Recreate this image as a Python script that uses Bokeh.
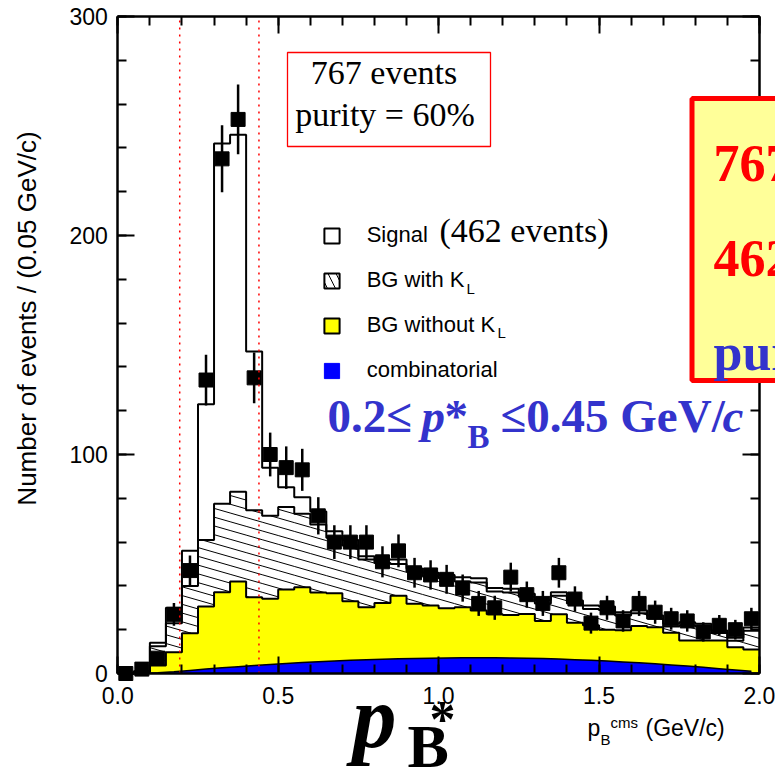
import numpy as np
from bokeh.plotting import figure
from bokeh.models import (Range1d, LinearAxis, FixedTicker, Label,
                          BoxAnnotation, Legend, LegendItem)
from bokeh.core.properties import value
from bokeh.embed import file_html
from bokeh.resources import INLINE

# ---------------- data ----------------
bin_start = 0.0
bin_width = 0.05
n_bins = 40

data_counts = [0, 2, 7, 27, 47, 134, 235, 253, 135, 100, 94, 93, 72, 60, 60, 60,
               51, 56, 46, 45, 43, 39, 32, 30, 44, 36, 32, 46, 34, 23, 30, 24,
               32, 28, 25, 24, 19, 22, 20, 25]
data_errors = [0, 1.4, 2.6, 5.2, 6.9, 11.6, 15.3, 15.9, 11.6, 10.0, 9.7, 9.6, 8.5,
               7.7, 7.7, 7.7, 7.1, 7.5, 6.8, 6.7, 6.6, 6.2, 5.7, 5.5, 6.6, 6.0,
               5.7, 6.8, 5.8, 4.8, 5.5, 4.9, 5.7, 5.3, 5.0, 4.9, 4.4, 4.7, 4.5, 5.0]

# stacked histograms (cumulative tops)
signal_top = [0, 1, 14, 30, 56, 123, 242, 246, 147, 94, 85, 80.5, 74, 65, 61,
              53.5, 52, 52, 48, 46, 45, 44, 43.5, 39, 38.7, 36.4, 33.6, 37.1,
              33.3, 31, 30.6, 28, 28.8, 26.5, 22.7, 23.4, 22.7, 19.6, 16.3, 21]
bg_kl_top = [0, 0.8, 12.5, 23, 40, 61, 77.5, 83, 74.5, 72, 76, 73, 68, 62, 58.5,
             52, 50.5, 50, 46.5, 44.5, 43.5, 42, 41.5, 37.5, 37, 35, 32, 35.5,
             32, 29.5, 29, 26.5, 27.5, 25, 21.5, 22, 21.5, 18.5, 15, 19.5]
bg_nokl_top = [0, 0.8, 3.6, 9.7, 18.4, 30.6, 37.1, 42, 34.8, 34.1, 38.3, 39.4, 37,
               36.7, 33, 30.3, 32.2, 35.5, 31.8, 31, 29.8, 30.3, 28.8, 27, 26.7,
               27.2, 24, 27, 23.2, 22, 20, 19.7, 21.7, 21.1, 18.6, 15.1, 15.1,
               15.1, 12, 11]
combinatorial = [0, 0, 0.3, 0.8, 1.4, 2.0, 2.6, 3.1, 3.6, 4.1, 4.6, 5.0, 5.4, 5.7,
                 6.0, 6.3, 6.5, 6.7, 6.9, 7.0, 7.1, 7.2, 7.2, 7.2, 7.1, 7.0, 6.8,
                 6.6, 6.3, 6.0, 5.7, 5.3, 4.9, 4.4, 3.9, 3.4, 2.8, 2.2, 1.6, 1.0]

x_ticks = [0.0, 0.5, 1.0, 1.5, 2.0]
x_minor = [0.0, 0.1, 0.2, 0.3, 0.4, 0.5, 0.6, 0.7, 0.8, 0.9, 1.0, 1.1, 1.2, 1.3,
           1.4, 1.5, 1.6, 1.7, 1.8, 1.9, 2.0]
y_ticks = [0, 100, 200, 300]
y_minor = [0, 20, 40, 60, 80, 100, 120, 140, 160, 180, 200, 220, 240, 260, 280, 300]
x_lim = (0.0, 2.0)
y_lim = (0, 300)
window_lo, window_hi = 0.193, 0.44

# ---------------- layout: whole canvas is the frame ----------------
W, H = 775, 781
X_ZERO, PX_PER_X = 117.3, 320.8   # pixel of x = 0, pixels per GeV/c
Y_ZERO, PX_PER_Y = 673.0, 2.19    # pixel of y = 0, pixels per event


def dx(X):
    return (X - X_ZERO) / PX_PER_X


def dy(Y):
    return (Y_ZERO - Y) / PX_PER_Y


edges = bin_start + bin_width * np.arange(n_bins + 1)
centers = 0.5 * (edges[:-1] + edges[1:])


def step_xy(vals):
    xs = np.repeat(edges, 2)[1:-1]
    ys = np.repeat(np.asarray(vals, dtype=float), 2)
    return xs, ys


p = figure(width=W, height=H, output_backend="svg", toolbar_location=None,
           x_range=Range1d(dx(0), dx(W)), y_range=Range1d(dy(H), dy(0)),
           min_border=0, background_fill_color="white",
           border_fill_color="white", x_axis_location=None, y_axis_location=None)
p.title.visible = False
p.grid.visible = False
p.outline_line_color = None

# yellow: BG without K_L
xs, ys = step_xy(bg_nokl_top)
p.varea(x=xs, y1=0, y2=ys, fill_color="#FFFF00")

# hatch lines of BG with K_L (between yellow top and hatched top)
slope, spacing = 42.0, 4.0
hx0, hy0, hx1, hy1 = [], [], [], []
for i in range(n_bins):
    lo, hi = bg_nokl_top[i], bg_kl_top[i]
    if hi <= lo:
        continue
    a, b = edges[i], edges[i + 1]
    k0 = int(np.ceil((lo + slope * a) / spacing))
    k1 = int(np.floor((hi + slope * b) / spacing))
    for k in range(k0, k1 + 1):
        c = k * spacing
        xa = max(a, (c - hi) / slope)
        xb = min(b, (c - lo) / slope)
        if xb > xa:
            hx0.append(xa); hy0.append(c - slope * xa)
            hx1.append(xb); hy1.append(c - slope * xb)
p.segment(x0=hx0, y0=hy0, x1=hx1, y1=hy1, line_color="black", line_width=1)

# combinatorial (blue)
p.varea(x=centers, y1=0, y2=combinatorial, fill_color="#0000FF")
p.line(x=centers, y=combinatorial, line_color="black", line_width=1.5)

# outlines
for vals in (bg_nokl_top, bg_kl_top, signal_top):
    xs, ys = step_xy(vals)
    p.line(x=xs, y=ys, line_color="black", line_width=2)

# data points with errors
err_lo = [c - e for c, e in zip(data_counts, data_errors)]
err_hi = [c + e for c, e in zip(data_counts, data_errors)]
p.segment(x0=centers, y0=err_lo, x1=centers, y1=err_hi, line_color="black",
          line_width=2.5)
p.scatter(x=centers, y=data_counts, marker="square", size=14,
          fill_color="black", line_color="black")

# selection window (red dotted)
p.segment(x0=[window_lo, window_hi], y0=[y_lim[0]] * 2,
          x1=[window_lo, window_hi], y1=[y_lim[1]] * 2,
          line_color="red", line_width=1.5, line_dash="2 5")

# legend icons (renderers with one undrawable point)
nan = [float("nan")]
r_sig = p.quad(left=nan, right=nan, top=nan, bottom=nan, fill_color="white",
               line_color="black", line_width=2)
r_kl = p.quad(left=nan, right=nan, top=nan, bottom=nan, fill_color="white",
              line_color="black", line_width=2, hatch_pattern="\\",
              hatch_color="black", hatch_scale=16, hatch_weight=1)
r_nokl = p.quad(left=nan, right=nan, top=nan, bottom=nan, fill_color="#FFFF00",
                line_color="black", line_width=2)
r_comb = p.quad(left=nan, right=nan, top=nan, bottom=nan, fill_color="#0000FF",
                line_color="#0000FF", line_width=1)

legend = Legend(items=[LegendItem(label="Signal", renderers=[r_sig]),
                       LegendItem(label="BG with K", renderers=[r_kl]),
                       LegendItem(label="BG without K", renderers=[r_nokl]),
                       LegendItem(label="combinatorial", renderers=[r_comb])],
                location=(321.7, 398), orientation="vertical",
                border_line_color=None, background_fill_alpha=0,
                padding=0, margin=0, spacing=19, glyph_width=19,
                glyph_height=19, label_height=25, label_standoff=26,
                label_text_font="Liberation Sans", label_text_font_size="22px",
                label_text_color="black")
p.add_layout(legend)


# axes fixed on the box edges
def make_axis(ticks, minor, fixed, bounds, labels, standoff=10):
    ax = LinearAxis(ticker=FixedTicker(ticks=ticks, minor_ticks=minor),
                    fixed_location=fixed, bounds=bounds)
    ax.axis_line_width = 2.5
    ax.axis_line_color = "black"
    ax.major_tick_in = 17
    ax.major_tick_out = 0
    ax.minor_tick_in = 9
    ax.minor_tick_out = 0
    ax.major_tick_line_width = 2
    ax.minor_tick_line_width = 2
    ax.major_tick_line_color = "black"
    ax.minor_tick_line_color = "black"
    if labels:
        ax.major_label_text_font = "Liberation Sans"
        ax.major_label_text_font_size = "23px"
        ax.major_label_text_color = "black"
        ax.major_label_standoff = standoff
    else:
        ax.major_label_text_color = None
        ax.major_label_text_font_size = "1px"
        ax.major_label_standoff = 0
    return ax


bottom_ax = make_axis(x_ticks, x_minor, y_lim[0], x_lim, True, standoff=13)
bottom_ax.major_label_overrides = {t: f"{t:.1f}" for t in x_ticks}
left_ax = make_axis(y_ticks, y_minor, x_lim[0], y_lim, True, standoff=10)
top_ax = make_axis(x_ticks, x_minor, y_lim[1], x_lim, False)
right_ax = make_axis(y_ticks, y_minor, x_lim[1], y_lim, False)
p.add_layout(bottom_ax, "below")
p.add_layout(left_ax, "left")
p.add_layout(top_ax, "above")
p.add_layout(right_ax, "right")

SANS = "Liberation Sans"
SERIF = "Liberation Serif"
BLUE = "#3333CC"

# y-axis title
p.add_layout(Label(x=dx(26), y=dy(318), text="Number of events / (0.05 GeV/c)",
                   angle=np.pi / 2, text_align="center", text_baseline="middle",
                   text_font=SANS, text_font_size="26px", text_color="black"))

# "767 events / purity" box
p.add_layout(BoxAnnotation(left=dx(287), right=dx(490), bottom=dy(146), top=dy(52),
                           fill_color="white", fill_alpha=1, line_color="red",
                           line_width=1.3, line_alpha=1))
p.add_layout(Label(x=dx(383.5), y=dy(90), text="767 events", text_align="center",
                   text_font=SERIF, text_font_size="34px", text_color="black"))
p.add_layout(Label(x=dx(384.5), y=dy(132), text="purity = 60%", text_align="center",
                   text_font=SERIF, text_font_size="34px", text_color="black"))
p.add_layout(Label(x=dx(439), y=dy(248), text="(462 events)", text_font=SERIF,
                   text_font_size="34px", text_color="black"))
p.add_layout(Label(x=dx(466), y=dy(296), text="L", text_font=SANS,
                   text_font_size="15px", text_color="black"))
p.add_layout(Label(x=dx(497), y=dy(340), text="L", text_font=SANS,
                   text_font_size="15px", text_color="black"))

# blue selection text
sel_parts = [("0.2\u2264", 327, 0, "bold", 47),
             ("p", 421, 0, "bold italic", 47),
             ("*", 444, 0, "bold", 47),
             ("B", 467, 13, "bold", 33),
             ("\u22640.45 GeV/", 500, 0, "bold", 47),
             ("c", 722, 0, "bold italic", 47)]
for txt, X, off, style, fs in sel_parts:
    p.add_layout(Label(x=dx(X), y=dy(441 + off), text=txt, text_font=SERIF,
                       text_font_style=style, text_font_size=f"{fs}px",
                       text_color=BLUE))

# x-axis titles
p.add_layout(Label(x=dx(352), y=dy(765), text="p", text_font=SERIF,
                   text_font_style="bold italic", text_font_size="88px",
                   text_color="black"))
p.add_layout(Label(x=dx(407), y=dy(779), text="B", text_font=SERIF,
                   text_font_style="bold", text_font_size="62px", text_color="black"))
p.add_layout(Label(x=dx(429), y=dy(747), text="*", text_font=SERIF,
                   text_font_style="bold", text_font_size="52px", text_color="black"))
p.add_layout(Label(x=dx(587), y=dy(740), text="p", text_font=SANS,
                   text_font_size="23px", text_color="black"))
p.add_layout(Label(x=dx(600), y=dy(747), text="B", text_font=SANS,
                   text_font_size="15px", text_color="black"))
p.add_layout(Label(x=dx(610), y=dy(730), text="cms", text_font=SANS,
                   text_font_size="15px", text_color="black"))
p.add_layout(Label(x=dx(645), y=dy(740), text="(GeV/c)", text_font=SANS,
                   text_font_size="23px", text_color="black"))

# big summary box, drawn over the right axis and cut by the window edge
p.quad(left=[dx(691.5)], right=[dx(W + 60)], top=[dy(98)], bottom=[dy(380)],
       fill_color="#FFFF99", line_color="red", line_width=5, level="overlay")
big_lines = ["767 events", "462 events", "purity = 60%"]
big_colors = ["#FF0000", "#FF0000", BLUE]
big_baselines = [163, 258, 352]
p.text(x=[dx(713)] * 3, y=[dy(b) for b in big_baselines], text=big_lines,
       text_color=big_colors, text_font=value(SERIF), text_font_style="bold",
       text_font_size="52px", text_baseline="alphabetic", level="overlay")

open("out.html", "w").write(file_html(p, INLINE))
